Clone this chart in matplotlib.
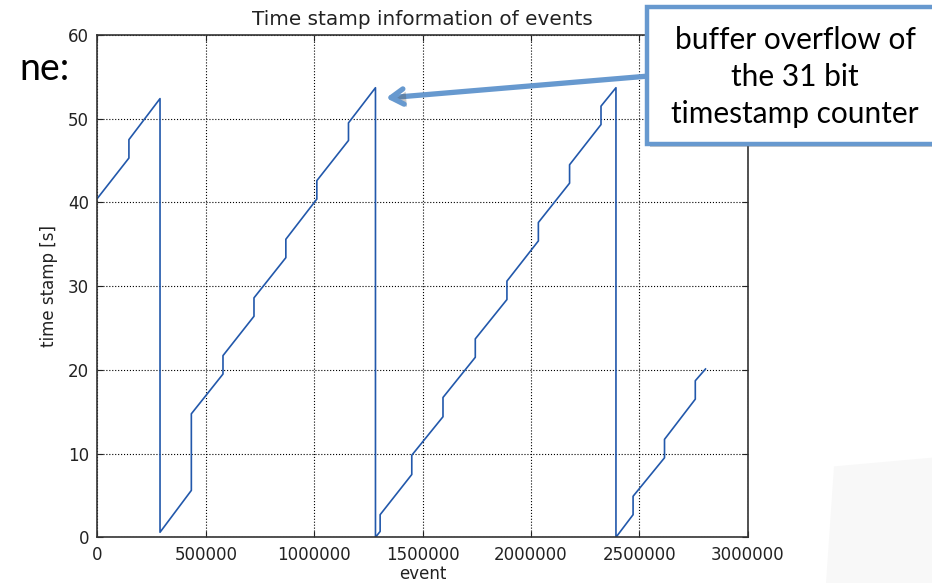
import numpy as np
import matplotlib
matplotlib.use('Agg')
import matplotlib.pyplot as plt
import matplotlib.patheffects as pe
from matplotlib.patches import Rectangle, Polygon

# vertices of the time stamp trace (event number, time stamp in s)
events = [0, 145e3, 145e3, 288.5e3, 288.5e3, 433e3, 433e3, 579e3, 579e3,
          722e3, 722e3, 869e3, 869e3, 1012e3, 1012e3, 1158e3, 1158e3,
          1282.5e3, 1282.5e3, 1304e3, 1304e3, 1450e3, 1450e3, 1594e3, 1594e3,
          1743e3, 1743e3, 1889e3, 1889e3, 2034e3, 2034e3, 2178e3, 2178e3,
          2323e3, 2323e3, 2392e3, 2392e3, 2471e3, 2471e3, 2616e3, 2616e3,
          2758e3, 2758e3, 2805e3]
stamps = [40.5, 45.3, 47.5, 52.4, 0.6, 5.6, 14.75, 19.5, 21.7, 26.4,
          28.6, 33.4, 35.6, 40.4, 42.6, 47.4, 49.5, 53.7, 0.0, 0.7,
          2.7, 7.5, 9.8, 14.4, 16.7, 21.5, 23.7, 28.4, 30.6, 35.4,
          37.6, 42.3, 44.5, 49.3, 51.5, 53.7, 0.0, 2.7, 4.9, 9.5,
          11.7, 16.5, 18.7, 20.1]

x_ticks = [0, 500000, 1000000, 1500000, 2000000, 2500000, 3000000]
y_ticks = [0, 10, 20, 30, 40, 50, 60]

callout = 'buffer overflow of\nthe 31 bit\ntimestamp counter'
slide_text = 'ne:'

# %%
fig = plt.figure(figsize=(9.32, 5.83), dpi=100, facecolor='white')
ax = fig.add_axes([0.1046, 0.0784, 0.6977, 0.8616])

ax.plot(events, stamps, color='#2258ab', lw=1.2)
ax.set_xlim(0, 3000000)
ax.set_ylim(0, 60)
ax.set_xticks(x_ticks)
ax.set_yticks(y_ticks)
ax.ticklabel_format(style='plain', useOffset=False)
ax.grid(True, color='black', ls=':', lw=0.8)
ax.tick_params(direction='in', top=True, right=True, length=4,
               labelsize=12, colors='#222222', pad=6)
for s in ax.spines.values():
    s.set_color('#333333')
    s.set_linewidth(1.2)

ax.set_title('Time stamp information of events', fontsize=14.4, color='#222222', pad=7)
ax.set_xlabel('event', fontsize=12, color='#222222', labelpad=1)
ax.set_ylabel('time stamp [s]', fontsize=12, color='#222222', labelpad=7)

# slide leftovers
fig.text(19 / 932, 1 - 80 / 583, slide_text, fontsize=27, family='Lato',
         va='baseline', ha='left', color='black')
fig.patches.append(Polygon([[826 / 932, 0], [834 / 932, 0.2], [1, 0.215], [1, 0]],
                           closed=True, transform=fig.transFigure,
                           facecolor='#f8f8f8', edgecolor='none', zorder=0))

# callout box with arrow
blue = '#6799cf'
shadow = [pe.SimplePatchShadow(offset=(2, -2), alpha=0.3), pe.Normal()]
box = Rectangle((647 / 932, 1 - 144 / 583), 0.32, (144 - 7.5) / 583,
                transform=fig.transFigure, facecolor='white', edgecolor=blue,
                lw=3.2, clip_on=False, zorder=5, path_effects=shadow)
fig.patches.append(box)
fig.text(795 / 932, 1 - 77 / 583, callout, fontsize=21.5, family='Lato',
         ha='center', va='center', linespacing=1.4, color='black', zorder=6)
ax.annotate('', xy=(386 / 932, 1 - 98 / 583), xycoords='figure fraction',
            xytext=(649 / 932, 1 - 76 / 583), textcoords='figure fraction',
            arrowprops=dict(arrowstyle='->,head_length=0.9,head_width=0.55',
                            color=blue, lw=3.8, shrinkA=0, shrinkB=0,
                            path_effects=shadow),
            annotation_clip=False, zorder=4)

fig.savefig('out.png', dpi=100, facecolor='white')
